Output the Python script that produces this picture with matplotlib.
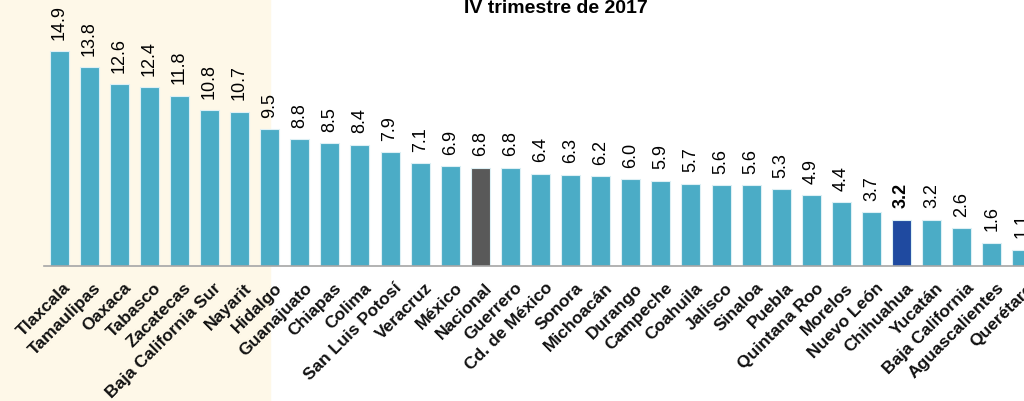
## Tasa de desocupacion por entidad federativa, IV trimestre de 2017

import matplotlib
matplotlib.use("Agg")
import matplotlib.pyplot as plt
import matplotlib.transforms as mtransforms
import numpy as np

estados = ["Tlaxcala", "Tamaulipas", "Oaxaca", "Tabasco", "Zacatecas",
           "Baja California Sur", "Nayarit", "Hidalgo", "Guanajuato", "Chiapas",
           "Colima", "San Luis Potosí", "Veracruz", "México", "Nacional",
           "Guerrero", "Cd. de México", "Sonora", "Michoacán", "Durango",
           "Campeche", "Coahuila", "Jalisco", "Sinaloa", "Puebla",
           "Quintana Roo", "Morelos", "Nuevo León", "Chihuahua", "Yucatán",
           "Baja California", "Aguascalientes", "Querétaro"]
valores = [14.9, 13.8, 12.6, 12.4, 11.8, 10.8, 10.7, 9.5, 8.8, 8.5,
           8.4, 7.9, 7.1, 6.9, 6.8, 6.8, 6.4, 6.3, 6.2, 6.0,
           5.9, 5.7, 5.6, 5.6, 5.3, 4.9, 4.4, 3.7, 3.2, 3.2,
           2.6, 1.6, 1.1]
titulo = "IV trimestre de 2017"
resaltado = "Chihuahua"
n_sombreado = 7  # shaded area reaches Hidalgo

color_barra = "#4BACC6"
color_nacional = "#595959"
color_resaltado = "#1F4AA0"
color_fondo = "#FEF8E8"

plt.rcParams['font.family'] = ['Liberation Sans', 'DejaVu Sans']

W, H = 1024, 402
fig = plt.figure(figsize=(W / 100, H / 100), dpi=100)
# axes runs past the right edge, like the cropped original
ax = fig.add_axes([44 / W, 135.5 / H, 993 / W, 266.5 / H])
ax.patch.set_alpha(0)

x = np.arange(len(estados))
colores = []
for e in estados:
    if e == "Nacional":
        colores.append(color_nacional)
    elif e == resaltado:
        colores.append(color_resaltado)
    else:
        colores.append(color_barra)

ax.bar(x, valores, width=0.63, color=colores, edgecolor="#DDF0F5", linewidth=0.8, zorder=2)
ax.set_xlim(-0.5, len(estados) - 0.5)
ax.set_ylim(0, 18.55)

for xi, v, e in zip(x, valores, estados):
    ax.annotate(f"{v:.1f}", (xi, v), xytext=(0, 9), textcoords="offset points",
                rotation=90, ha="center", va="bottom", fontsize=13,
                fontweight="bold" if e == resaltado else "normal", clip_on=False)

ax.set_xticks(x)
ax.set_xticklabels(estados, rotation=45, ha="right", va="top", rotation_mode="anchor",
                   fontsize=12.5, fontweight="bold", color="#111111")
ax.tick_params(axis="x", length=0, pad=10)
shift = mtransforms.ScaledTranslation(3 / 72, 0, fig.dpi_scale_trans)
for lab in ax.get_xticklabels():
    lab.set_transform(lab.get_transform() + shift)
ax.set_yticks([])
for s in ["top", "right", "left"]:
    ax.spines[s].set_visible(False)
ax.spines["bottom"].set_color("#A6A6A6")
ax.spines["bottom"].set_linewidth(1.2)

# cream background behind the first states, from the figure top to bottom
x_fin = ax.transData.transform((n_sombreado, 0))[0] / W
fig.patches.append(plt.Rectangle((0, 0), x_fin, 1, transform=fig.transFigure,
                                 color=color_fondo, zorder=-10))

fig.text(556 / W, (H - 13) / H, titulo, ha="center", va="baseline",
         fontsize=14, fontweight="bold")

fig.savefig("out.png", dpi=100)
